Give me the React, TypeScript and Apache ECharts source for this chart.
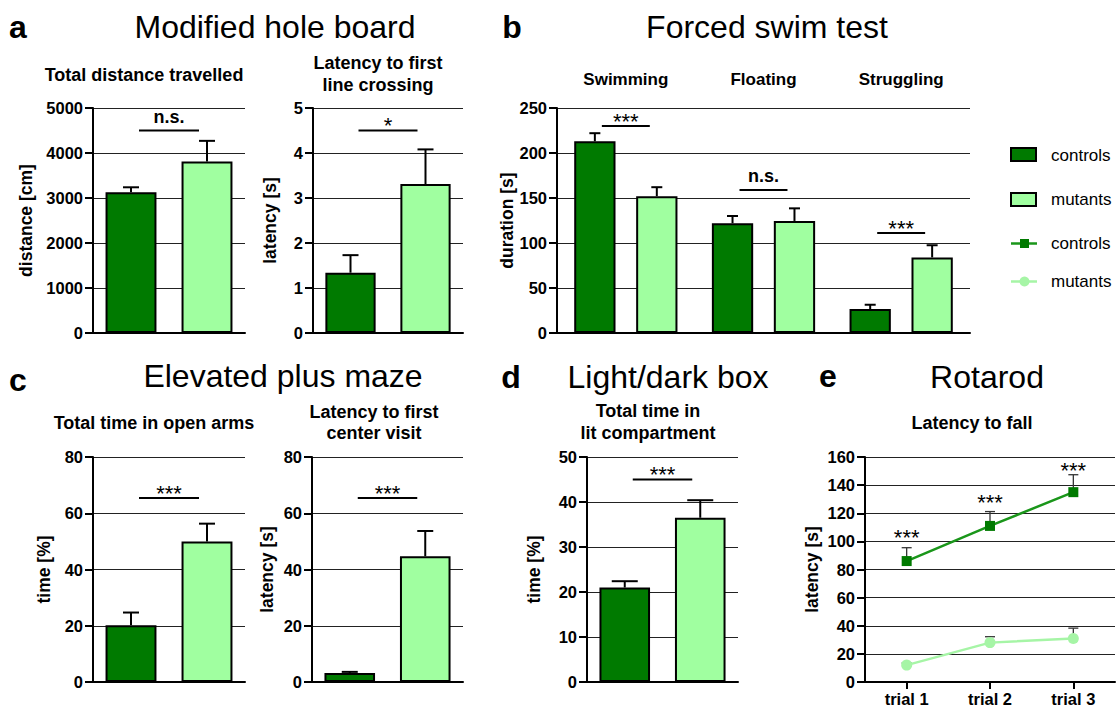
import React, { useEffect, useRef } from "react";
import * as echarts from "echarts";

const FONT = "'Liberation Sans', Arial, Helvetica, sans-serif";
const DARK = "#007a00";
const LIGHT = "#a0ffa0";
const LINE_DARK = "#1a961a";
const LINE_LIGHT = "#a6f5a6";

// Groups used by the two-bar panels
const groups = ["controls", "mutants"];

// a — Modified hole board
const distMean = [3130, 3810];
const distSem = [108, 460];
const distSig = [{ y: 4500, label: "n.s." }];
const crossMean = [1.34, 3.31];
const crossSem = [0.39, 0.77];
const crossSig = [{ y: 4.5, label: "*" }];

// b — Forced swim test
const swimCats = ["Swimming", "Floating", "Struggling"];
const swimCtrlMean = [213, 122, 26.6];
const swimCtrlSem = [9, 8, 4.8];
const swimMutMean = [152, 124.5, 84];
const swimMutSem = [10, 14, 13.5];
const swimSig = [
  { cat: 0, y: 230, label: "***" },
  { cat: 1, y: 159, label: "n.s." },
  { cat: 2, y: 111, label: "***" },
];

// c — Elevated plus maze
const openMean = [20.2, 50.0];
const openSem = [4.5, 6.3];
const openSig = [{ y: 65.4, label: "***" }];
const centerMean = [3.2, 44.7];
const centerSem = [0.4, 9.0];
const centerSig = [{ y: 65.4, label: "***" }];

// d — Light/dark box
const litMean = [21.0, 36.5];
const litSem = [1.4, 3.9];
const litSig = [{ y: 45, label: "***" }];

// e — Rotarod
const trials = ["trial 1", "trial 2", "trial 3"];
const rotaCtrlMean = [86, 111, 135];
const rotaCtrlSem = [9.5, 10.2, 12.4];
const rotaMutMean = [12, 28, 31];
const rotaMutSem = [1.5, 4.2, 7.3];
const rotaStarY = [106, 131, 154];

type Panel = {
  left: number; top: number; width: number; height: number;
  max: number; interval: number; name: string; nameGap: number;
};

const tickFont = { fontWeight: "bold", fontSize: 16.5, color: "#000", fontFamily: FONT };

function makeYAxis(gi: number, p: Panel) {
  return {
    type: "value", gridIndex: gi, min: 0, max: p.max, interval: p.interval,
    name: p.name, nameLocation: "middle", nameGap: p.nameGap,
    nameTextStyle: { fontWeight: "bold", fontSize: 17.5, color: "#000", fontFamily: FONT },
    axisLine: { show: true, lineStyle: { color: "#000", width: 2 } },
    axisTick: { show: true, length: 8, lineStyle: { color: "#000", width: 2 } },
    axisLabel: { ...tickFont, margin: 10, formatter: (v: number) => String(v) },
    splitLine: { show: true, lineStyle: { color: "#222", width: 1 } },
  };
}

function errRender(shift: number, capW: number, color: string, lw: number) {
  return (params: any, api: any) => {
    const x = api.value(0);
    const p0 = api.coord([x, api.value(1)]);
    const p1 = api.coord([x, api.value(2)]);
    const bw = api.size([1, 0])[0];
    const cx = p0[0] + shift * bw;
    const st = { stroke: color, lineWidth: lw };
    return {
      type: "group",
      children: [
        { type: "line", shape: { x1: cx, y1: p0[1], x2: cx, y2: p1[1] }, style: st },
        { type: "line", shape: { x1: cx - capW / 2, y1: p1[1], x2: cx + capW / 2, y2: p1[1] }, style: st },
      ],
    };
  };
}

function sigText(label: string, x: number, lineY: number) {
  const star = label.includes("*");
  const fs = star ? 22 : 18;
  const y = star ? lineY - 10 + 0.23 * fs : lineY - 12.4 - 0.087 * fs;
  return {
    type: "text", x, y,
    style: {
      text: label, fill: "#000", fontSize: fs, fontWeight: star ? "normal" : "bold",
      fontFamily: FONT, align: "center", verticalAlign: "middle",
    },
  };
}

function sigRender(labels: string[], shiftL: number, shiftR: number, inset: number) {
  return (params: any, api: any) => {
    const a = api.coord([api.value(0), api.value(2)]);
    const b = api.coord([api.value(1), api.value(2)]);
    const bw = api.size([1, 0])[0];
    const xa = a[0] + shiftL * bw + inset;
    const xb = b[0] + shiftR * bw - inset;
    return {
      type: "group",
      children: [
        { type: "line", shape: { x1: xa, y1: a[1], x2: xb, y2: a[1] }, style: { stroke: "#000", lineWidth: 2 } },
        sigText(labels[params.dataIndex], (xa + xb) / 2, a[1]),
      ],
    };
  };
}

function buildOption() {
  const grid: any[] = [];
  const xAxis: any[] = [];
  const yAxis: any[] = [];
  const series: any[] = [];

  const twoBar = (p: Panel, means: number[], sems: number[], sig: { y: number; label: string }[], capW: number) => {
    const gi = grid.length;
    grid.push({ left: p.left, top: p.top, width: p.width, height: p.height });
    const xi = xAxis.length;
    xAxis.push({
      type: "category", gridIndex: gi, data: groups,
      axisLine: { lineStyle: { color: "#000", width: 2 } },
      axisTick: { show: false }, axisLabel: { show: false }, splitLine: { show: false },
    });
    const yi = yAxis.length;
    yAxis.push(makeYAxis(gi, p));
    series.push({
      type: "bar", xAxisIndex: xi, yAxisIndex: yi, barWidth: "67%",
      itemStyle: { borderColor: "#000", borderWidth: 2 },
      data: means.map((v, i) => ({ value: v, itemStyle: { color: i ? LIGHT : DARK } })),
      z: 2,
    });
    series.push({
      type: "custom", xAxisIndex: xi, yAxisIndex: yi, z: 3,
      encode: { x: 0, y: [1, 2] },
      renderItem: errRender(0, capW, "#000", 2),
      data: means.map((m, i) => [i, m, m + sems[i]]),
    });
    series.push({
      type: "custom", xAxisIndex: xi, yAxisIndex: yi, z: 3,
      encode: { x: 0, y: 2 },
      renderItem: sigRender(sig.map((s) => s.label), 0, 0, 8),
      data: sig.map((s) => [0, 1, s.y]),
    });
  };

  // a
  twoBar({ left: 93, top: 108, width: 152, height: 225, max: 5000, interval: 1000, name: "distance [cm]", nameGap: 58 },
    distMean, distSem, distSig, 16);
  twoBar({ left: 313, top: 108, width: 150, height: 225, max: 5, interval: 1, name: "latency [s]", nameGap: 34 },
    crossMean, crossSem, crossSig, 16);

  // b
  {
    const gi = grid.length;
    grid.push({ left: 557, top: 108, width: 413, height: 225 });
    const xi = xAxis.length;
    xAxis.push({
      type: "category", gridIndex: gi, data: swimCats,
      axisLine: { lineStyle: { color: "#000", width: 2 } },
      axisTick: { show: false }, axisLabel: { show: false }, splitLine: { show: false },
    });
    xAxis.push({
      type: "category", gridIndex: gi, data: swimCats, position: "top",
      axisLine: { show: false }, axisTick: { show: false }, splitLine: { show: false },
      axisLabel: { fontWeight: "bold", fontSize: 17, color: "#000", fontFamily: FONT, margin: 20 },
    });
    const yi = yAxis.length;
    yAxis.push(makeYAxis(gi, { left: 0, top: 0, width: 0, height: 0, max: 250, interval: 50, name: "duration [s]", nameGap: 35 }));
    const common = { type: "bar", xAxisIndex: xi, yAxisIndex: yi, barWidth: "30%", barGap: "50%", z: 2 };
    series.push({ ...common, name: "controls", data: swimCtrlMean, itemStyle: { color: DARK, borderColor: "#000", borderWidth: 2 } });
    series.push({ ...common, name: "mutants", data: swimMutMean, itemStyle: { color: LIGHT, borderColor: "#000", borderWidth: 2 } });
    series.push({
      type: "custom", xAxisIndex: xi, yAxisIndex: yi, z: 3, encode: { x: 0, y: [1, 2] },
      renderItem: errRender(-0.225, 11, "#000", 2),
      data: swimCtrlMean.map((m, i) => [i, m, m + swimCtrlSem[i]]),
    });
    series.push({
      type: "custom", xAxisIndex: xi, yAxisIndex: yi, z: 3, encode: { x: 0, y: [1, 2] },
      renderItem: errRender(0.225, 11, "#000", 2),
      data: swimMutMean.map((m, i) => [i, m, m + swimMutSem[i]]),
    });
    series.push({
      type: "custom", xAxisIndex: xi, yAxisIndex: yi, z: 3, encode: { x: 0, y: 2 },
      renderItem: sigRender(swimSig.map((s) => s.label), -0.225, 0.225, 7),
      data: swimSig.map((s) => [s.cat, s.cat, s.y]),
    });
  }

  // c
  twoBar({ left: 93, top: 457, width: 152, height: 225, max: 80, interval: 20, name: "time [%]", nameGap: 40 },
    openMean, openSem, openSig, 16);
  twoBar({ left: 312, top: 457, width: 151, height: 225, max: 80, interval: 20, name: "latency [s]", nameGap: 36 },
    centerMean, centerSem, centerSig, 16);

  // d
  twoBar({ left: 587, top: 457, width: 151, height: 225, max: 50, interval: 10, name: "time [%]", nameGap: 44 },
    litMean, litSem, litSig, 26);

  // e
  {
    const gi = grid.length;
    grid.push({ left: 865, top: 457, width: 250, height: 225 });
    const xi = xAxis.length;
    xAxis.push({
      type: "category", gridIndex: gi, data: trials, boundaryGap: true,
      axisLine: { lineStyle: { color: "#000", width: 2 } },
      axisTick: { show: true, alignWithLabel: true, length: 7, lineStyle: { color: "#000", width: 2 } },
      axisLabel: { ...tickFont, margin: 8 }, splitLine: { show: false },
    });
    const yi = yAxis.length;
    yAxis.push(makeYAxis(gi, { left: 0, top: 0, width: 0, height: 0, max: 160, interval: 20, name: "latency [s]", nameGap: 44 }));
    series.push({
      type: "custom", xAxisIndex: xi, yAxisIndex: yi, z: 2, encode: { x: 0, y: [1, 2] },
      renderItem: errRender(0, 10, "#333", 1.3),
      data: rotaCtrlMean.map((m, i) => [i, m, m + rotaCtrlSem[i]]),
    });
    series.push({
      type: "custom", xAxisIndex: xi, yAxisIndex: yi, z: 2, encode: { x: 0, y: [1, 2] },
      renderItem: errRender(0, 10, "#333", 1.3),
      data: rotaMutMean.map((m, i) => [i, m, m + rotaMutSem[i]]),
    });
    series.push({
      type: "line", name: "controls", xAxisIndex: xi, yAxisIndex: yi, z: 4,
      data: rotaCtrlMean, symbol: "rect", symbolSize: 10,
      itemStyle: { color: DARK }, lineStyle: { color: LINE_DARK, width: 2.5 },
    });
    series.push({
      type: "line", name: "mutants", xAxisIndex: xi, yAxisIndex: yi, z: 4,
      data: rotaMutMean, symbol: "circle", symbolSize: 11,
      itemStyle: { color: LINE_LIGHT }, lineStyle: { color: LINE_LIGHT, width: 2.5 },
    });
    series.push({
      type: "custom", xAxisIndex: xi, yAxisIndex: yi, z: 5, encode: { x: 0, y: 1 },
      renderItem: (params: any, api: any) => {
        const p = api.coord([api.value(0), api.value(1)]);
        return {
          type: "text", x: p[0], y: p[1] + 0.23 * 22,
          style: { text: "***", fill: "#000", fontSize: 22, fontFamily: FONT, align: "center", verticalAlign: "middle" },
        };
      },
      data: rotaStarY.map((y, i) => [i, y]),
    });
  }

  const txt = (text: string, x: number, y: number, size: number, bold: boolean, align = "center", lineHeight?: number) => ({
    type: "text", x, y, silent: true,
    style: {
      text, fill: "#000", fontSize: size, fontWeight: bold ? "bold" : "normal", fontFamily: FONT,
      textAlign: align, align, textVerticalAlign: "middle", verticalAlign: "middle",
      lineHeight: lineHeight ?? size + 4,
    },
  });

  const graphic: any[] = [
    // panel letters and titles
    txt("a", 18, 27, 32, true),
    txt("Modified hole board", 275, 27, 32, false),
    txt("b", 512, 27, 32, true),
    txt("Forced swim test", 767, 27, 32, false),
    txt("c", 18, 380, 32, true),
    txt("Elevated plus maze", 283, 376, 32, false),
    txt("d", 511, 377, 32, true),
    txt("Light/dark box", 668, 377, 32, false),
    txt("e", 828, 376, 32, true),
    txt("Rotarod", 987, 377, 32, false),
    // subtitles
    txt("Total distance travelled", 144, 75, 18, true),
    txt("Latency to first\nline crossing", 378, 74, 18, true, "center", 22),
    txt("Total time in open arms", 154, 423, 18, true),
    txt("Latency to first\ncenter visit", 374, 422, 18, true, "center", 21),
    txt("Total time in\nlit compartment", 648, 422, 18, true, "center", 22),
    txt("Latency to fall", 972, 423, 18, true),
    // legend
    { type: "rect", shape: { x: 1011, y: 148, width: 25, height: 13 }, style: { fill: DARK, stroke: "#000", lineWidth: 2 } },
    { type: "rect", shape: { x: 1011, y: 193, width: 25, height: 13 }, style: { fill: LIGHT, stroke: "#000", lineWidth: 2 } },
    { type: "line", shape: { x1: 1011, y1: 243.5, x2: 1037, y2: 243.5 }, style: { stroke: LINE_DARK, lineWidth: 2.5 } },
    { type: "rect", shape: { x: 1020, y: 239, width: 9, height: 9 }, style: { fill: DARK } },
    { type: "line", shape: { x1: 1011, y1: 281.5, x2: 1037, y2: 281.5 }, style: { stroke: LINE_LIGHT, lineWidth: 2.5 } },
    { type: "circle", shape: { cx: 1024.5, cy: 281.5, r: 5 }, style: { fill: LINE_LIGHT } },
    txt("controls", 1051, 155, 17, false, "left"),
    txt("mutants", 1051, 199.5, 17, false, "left"),
    txt("controls", 1051, 243.5, 17, false, "left"),
    txt("mutants", 1051, 281.5, 17, false, "left"),
  ];

  return {
    animation: false,
    backgroundColor: "#fff",
    textStyle: { fontFamily: FONT },
    grid, xAxis, yAxis, series, graphic,
  };
}

export default function App() {
  const ref = useRef<HTMLDivElement>(null);
  useEffect(() => {
    if (!ref.current) return;
    const chart = echarts.init(ref.current, null, { renderer: "svg" });
    chart.setOption(buildOption() as any);
    return () => chart.dispose();
  }, []);
  return (
    <div
      ref={ref}
      style={{ position: "absolute", left: 0, top: 0, width: 1118, height: 707, background: "#fff" }}
    />
  );
}
